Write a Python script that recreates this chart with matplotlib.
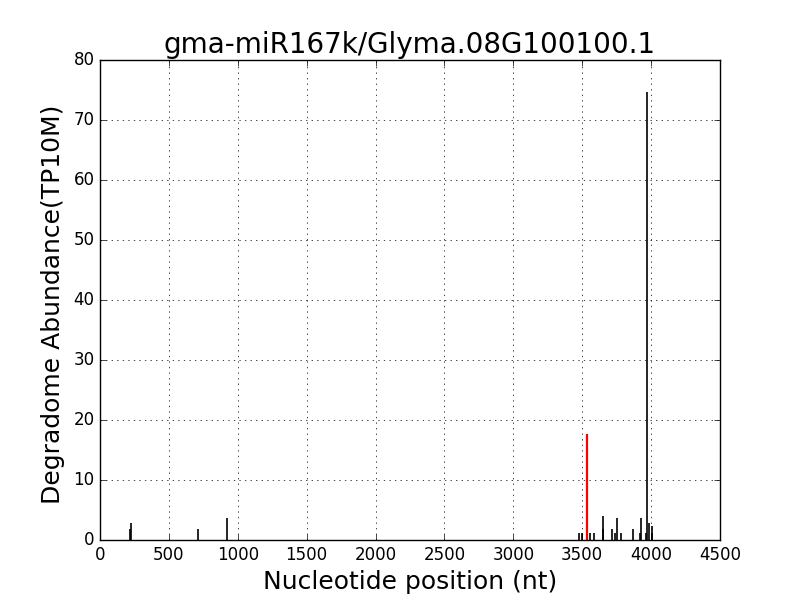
import matplotlib
matplotlib.use("Agg")
import matplotlib.pyplot as plt

plt.style.use("classic")

# degradome tags (position nt, abundance TP10M)
positions = [218, 222, 714, 925, 3478, 3500, 3560, 3589, 3648, 3652,
             3719, 3741, 3756, 3778, 3865, 3916, 3930, 3966, 3972, 3984,
             4004, 4010]
abundance = [1.8, 2.9, 1.8, 3.6, 1.1, 1.1, 1.1, 1.1, 1.8, 4.0,
             1.8, 1.1, 3.6, 1.1, 1.8, 1.1, 3.6, 1.1, 74.6, 2.9,
             1.1, 2.4]
# predicted cleavage site
cleave_pos = [3534]
cleave_val = [17.6]

fig = plt.figure(figsize=(8, 6), dpi=100, facecolor="white")
ax = fig.add_axes([0.125, 0.1, 0.775, 0.8])

ax.vlines(positions, 0, abundance, colors="black", linewidth=1.2)
ax.vlines(cleave_pos, 0, cleave_val, colors="red", linewidth=1.6)

ax.set_xlim(0, 4500)
ax.set_ylim(0, 80)
ax.grid(True, color="black", linestyle=":")
ax.set_title("gma-miR167k/Glyma.08G100100.1", fontsize=20)
ax.set_xlabel("Nucleotide position (nt)", fontsize=18)
ax.set_ylabel("Degradome Abundance(TP10M)", fontsize=18)
ax.yaxis.set_label_coords(-0.056, 0.49)
ax.tick_params(labelsize=12)

fig.savefig("out.png", dpi=100, facecolor="white")
